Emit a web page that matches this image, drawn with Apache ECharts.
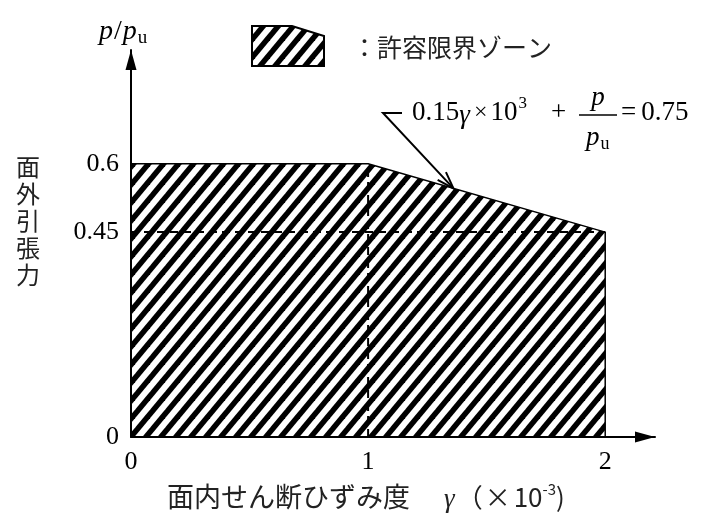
<!DOCTYPE html>
<html>
<head>
<meta charset="utf-8">
<script src="https://cdn.jsdelivr.net/npm/echarts@6/dist/echarts.min.js"></script>
<style>
  html, body { margin: 0; padding: 0; background: #fff; }
  #chart { width: 704px; height: 525px; }
</style>
</head>
<body>
<div id="chart"></div>
<script>
// 許容限界ゾーンの境界 (γ ×10^-3, p/pu)
const zoneGamma = [0, 1, 2, 2];
const zoneP = [0.6, 0.6, 0.45, 0];
// 補助破線
const refGamma = 1;
const refP = 0.45;
// 目盛ラベル
const xTicks = [0, 1, 2];
const yTicks = [0, 0.45, 0.6];
// 引出線の先端 (境界線上の点)
const leaderTip = [1.36, 0.546];

const SERIF = '"Liberation Serif", "DejaVu Serif", serif';
const JP = '"Noto Sans CJK JP", sans-serif';

// 斜線ハッチのタイル (線はタイルの外まで延ばして継ぎ目を消す)
function makeHatch() {
  const w = 15, h = 18;
  const c = document.createElement('canvas');
  c.width = w;
  c.height = h;
  const ctx = c.getContext('2d');
  ctx.fillStyle = '#fff';
  ctx.fillRect(0, 0, w, h);
  ctx.strokeStyle = '#000';
  ctx.lineWidth = 5.5;
  for (let k = -2; k <= 2; k++) {
    ctx.beginPath();
    ctx.moveTo((k - 1) * w, 2 * h);
    ctx.lineTo((k + 2) * w, -h);
    ctx.stroke();
  }
  return c;
}

const hatch = makeHatch();
const hatchFill = { image: hatch, repeat: 'repeat' };

const chart = echarts.init(document.getElementById('chart'));

const axisCommon = {
  type: 'value',
  min: 0,
  z: 10,
  axisLine: {
    show: true,
    onZero: false,
    symbol: ['none', 'triangle'],
    symbolSize: [11, 20],
    symbolOffset: [0, -10],
    lineStyle: { color: '#000', width: 2 }
  },
  axisTick: { show: false },
  splitLine: { show: false }
};

chart.setOption({
  animation: false,
  backgroundColor: '#fff',
  grid: { left: 131, top: 50, width: 524, height: 387 },
  xAxis: Object.assign({}, axisCommon, {
    max: 2.21,
    axisLabel: {
      customValues: xTicks,
      color: '#000',
      fontFamily: SERIF,
      fontSize: 26,
      margin: 12
    }
  }),
  yAxis: Object.assign({}, axisCommon, {
    max: 0.85,
    axisLabel: {
      customValues: yTicks,
      color: '#000',
      fontFamily: SERIF,
      fontSize: 26,
      margin: 12
    }
  }),
  series: [
    {
      name: '許容限界ゾーン',
      type: 'line',
      data: zoneGamma.map((g, i) => [g, zoneP[i]]),
      symbol: 'none',
      lineStyle: { color: '#000', width: 1.5 },
      areaStyle: { color: hatchFill, opacity: 1 },
      z: 2
    },
    {
      type: 'line',
      data: [[refGamma, 0], [refGamma, zoneP[0]]],
      symbol: 'none',
      lineStyle: { color: '#000', width: 2, type: [8, 5] },
      z: 3
    },
    {
      type: 'line',
      data: [[0, refP], [zoneGamma[2], refP]],
      symbol: 'none',
      lineStyle: { color: '#000', width: 2, type: [8, 5] },
      z: 3
    }
  ]
});

// テキスト要素
function txt(text, x, y, size, opt) {
  opt = opt || {};
  return {
    type: 'text',
    x: x,
    y: y,
    z: 20,
    style: {
      text: text,
      fontSize: size,
      fontFamily: opt.family || SERIF,
      fontStyle: opt.italic ? 'italic' : 'normal',
      fill: opt.color || '#000',
      align: opt.align || 'left',
      verticalAlign: 'middle',
      textAlign: opt.align || 'left',
      textVerticalAlign: 'middle',
      lineHeight: opt.lineHeight
    }
  };
}

// 文字片を左から順に並べる
const measureCtx = document.createElement('canvas').getContext('2d');
function row(pieces, x0, y0) {
  let x = x0;
  return pieces.map(p => {
    x += p.gap || 0;
    measureCtx.font = (p.italic ? 'italic ' : '') + p.size + 'px ' + (p.family || SERIF);
    const el = txt(p.text, x, y0 + (p.dy || 0), p.size, p);
    x += measureCtx.measureText(p.text).width;
    return el;
  });
}

function buildGraphic() {
  const tip = chart.convertToPixel({ gridIndex: 0 }, leaderTip);
  const start = [383, 113];
  const dx = tip[0] - start[0], dy = tip[1] - start[1];
  const len = Math.sqrt(dx * dx + dy * dy);
  const ux = dx / len, uy = dy / len;
  const barb = (ang) => {
    const c = Math.cos(ang), s = Math.sin(ang);
    const bx = -(ux * c - uy * s), by = -(ux * s + uy * c);
    return [tip[0] + bx * 18, tip[1] + by * 18];
  };
  const lineStyle = { stroke: '#000', lineWidth: 2, fill: null };

  let els = [];
  // y軸名 p/pu
  els = els.concat(row([
    { text: 'p', size: 28, italic: true },
    { text: '/', size: 28, gap: 1 },
    { text: 'p', size: 28, italic: true, gap: 1 },
    { text: 'u', size: 19, dy: 6, gap: 1 }
  ], 99, 32));

  // 凡例
  els.push({
    type: 'polygon',
    z: 20,
    shape: { points: [[252, 26], [292, 26], [324, 36], [324, 66], [252, 66]] },
    style: { fill: hatchFill, stroke: '#000', lineWidth: 2 }
  });
  els.push(txt('：許容限界ゾーン', 352, 47, 25, { family: JP, color: '#222' }));

  // 引出線
  els.push({
    type: 'polyline', z: 20,
    shape: { points: [[402, 113], start, tip] },
    style: lineStyle
  });
  els.push({
    type: 'polyline', z: 20,
    shape: { points: [barb(0.32), tip, barb(-0.32)] },
    style: lineStyle
  });

  // 式 0.15γ×10^3 + p/pu = 0.75
  els = els.concat(row([
    { text: '0.15', size: 27 },
    { text: 'γ', size: 27, italic: true, dy: 3 },
    { text: '×', size: 24, gap: 4 },
    { text: '10', size: 27, gap: 3 },
    { text: '3', size: 17, dy: -9, gap: 1 },
    { text: '+', size: 27, gap: 24 }
  ], 412, 113));
  els.push({
    type: 'line', z: 20,
    shape: { x1: 579, y1: 115, x2: 617, y2: 115 },
    style: { stroke: '#000', lineWidth: 1.5 }
  });
  els.push(txt('p', 598, 98, 27, { italic: true, align: 'center' }));
  els = els.concat(row([
    { text: 'p', size: 27, italic: true },
    { text: 'u', size: 18, dy: 6, gap: 1 }
  ], 586, 138));
  els = els.concat(row([
    { text: '=', size: 27 },
    { text: '0.75', size: 27, gap: 5 }
  ], 621, 113));

  // 縦軸の説明
  els.push(txt('面\n外\n引\n張\n力', 28, 221, 24, { family: JP, color: '#222', align: 'center', lineHeight: 27 }));

  // 横軸名
  els = els.concat(row([
    { text: '面内せん断ひずみ度', size: 27, family: JP, color: '#222' },
    { text: 'γ', size: 27, italic: true, color: '#222', gap: 34, dy: 3 },
    { text: '（', size: 26, family: JP, color: '#222', gap: 2 },
    { text: '×', size: 26, family: JP, color: '#222', gap: 2 },
    { text: '10', size: 26, family: JP, color: '#222', gap: 3 },
    { text: '-3', size: 15, family: JP, color: '#222', dy: -8 },
    { text: ')', size: 26, family: JP, color: '#222' }
  ], 167, 497));

  return els;
}

chart.setOption({ graphic: buildGraphic() });
</script>
</body>
</html>
